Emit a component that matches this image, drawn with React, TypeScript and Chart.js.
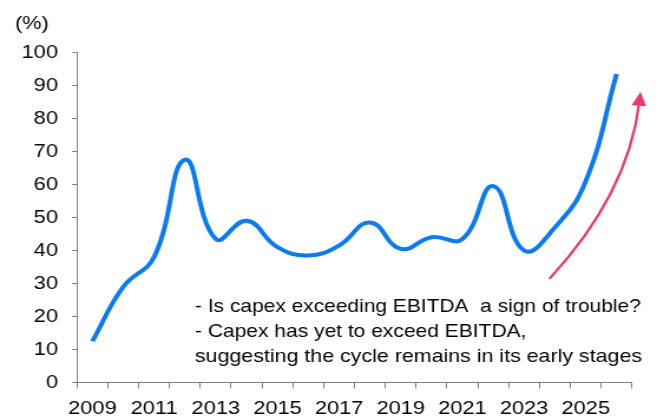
import React, { useEffect, useRef } from "react";
import { Chart, registerables } from "chart.js";

Chart.register(...registerables);

const years: string[] = [
  "2009", "2010", "2011", "2012", "2013", "2014", "2015", "2016", "2017",
  "2018", "2019", "2020", "2021", "2022", "2023", "2024", "2025", "2026",
];
const capexToEbitda: number[] = [
  12.5, 29, 38, 67.5, 43.5, 49, 41, 38.5, 41.5, 48.5, 40.5, 44, 43.5, 59.5, 40, 47, 61, 93.5,
];
const unitLabel = "(%)";
const noteLines: string[] = [
  "- Is capex exceeding EBITDA  a sign of trouble?",
  "- Capex has yet to exceed EBITDA,",
  "suggesting the cycle remains in its early stages",
];
const noteWidths: number[] = [378, 281, 379];
// arrow annotation in data space: [category index, value]
const arrowStart: [number, number] = [14.82, 31.4];
const arrowControl: [number, number] = [17.36, 57];
const arrowTip: [number, number] = [17.78, 88.1];

const FONT = "'Liberation Sans', Arial, sans-serif";
const FONT_SIZE = 18.5;
const STRETCH = 657 / 557;

const overlayPlugin = {
  id: "overlay",
  afterDraw(chart: any) {
    const ctx = chart.ctx as CanvasRenderingContext2D;
    const xs = chart.scales.x;
    const ys = chart.scales.y;
    ctx.save();
    ctx.fillStyle = "#000";
    ctx.font = `${FONT_SIZE}px ${FONT}`;
    ctx.textAlign = "left";
    ctx.textBaseline = "alphabetic";
    ctx.fillText(unitLabel, 12.7, 28.6);
    const noteX = 165.3;
    const baselines = [312.3, 337.3, 362.4];
    noteLines.forEach((t, i) => {
      const w = ctx.measureText(t).width;
      ctx.fillText(t, noteX, baselines[i], Math.min(w, noteWidths[i]));
    });

    // arrow
    const p0 = { x: xs.getPixelForValue(arrowStart[0]), y: ys.getPixelForValue(arrowStart[1]) };
    const c = { x: xs.getPixelForValue(arrowControl[0]), y: ys.getPixelForValue(arrowControl[1]) };
    const tip = { x: xs.getPixelForValue(arrowTip[0]), y: ys.getPixelForValue(arrowTip[1]) };
    const dx = tip.x - c.x;
    const dy = tip.y - c.y;
    const len = Math.hypot(dx, dy);
    const ux = dx / len;
    const uy = dy / len;
    const headLen = 14;
    const headHalf = 6.2;
    const base = { x: tip.x - ux * headLen, y: tip.y - uy * headLen };
    ctx.strokeStyle = "#e93a67";
    ctx.fillStyle = "#e93a67";
    ctx.lineWidth = 2.3;
    ctx.beginPath();
    ctx.moveTo(p0.x, p0.y);
    ctx.quadraticCurveTo(c.x, c.y, base.x + ux * 2, base.y + uy * 2);
    ctx.stroke();
    ctx.beginPath();
    ctx.moveTo(tip.x, tip.y);
    ctx.lineTo(base.x - uy * headHalf, base.y + ux * headHalf);
    ctx.lineTo(base.x + uy * headHalf, base.y - ux * headHalf);
    ctx.closePath();
    ctx.fill();
    ctx.restore();
  },
};

export default function App() {
  const ref = useRef<HTMLCanvasElement | null>(null);
  useEffect(() => {
    document.body.style.margin = "0";
    if (!ref.current) return;
    const chart = new Chart(ref.current, {
      type: "line",
      data: {
        labels: years,
        datasets: [
          {
            data: capexToEbitda,
            borderColor: "#0b7bef",
            borderWidth: 4,
            pointRadius: 0,
            tension: 0.45,
            fill: false,
          },
        ],
      },
      options: {
        responsive: false,
        animation: false,
        devicePixelRatio: 1,
        layout: { padding: { left: 0, right: 21.2, top: 52.5, bottom: 0 } },
        plugins: { legend: { display: false }, tooltip: { enabled: false }, title: { display: false } },
        scales: {
          x: {
            type: "category",
            offset: true,
            afterFit: (s: any) => { s.height = 36.5; },
            grid: {
              offset: true,
              drawOnChartArea: false,
              drawTicks: true,
              tickLength: 6,
              color: "#808080",
            },
            border: { display: true, color: "#808080", width: 1 },
            ticks: {
              autoSkip: false,
              maxRotation: 0,
              minRotation: 0,
              padding: 9,
              color: "#000",
              font: { family: FONT, size: FONT_SIZE },
              callback: (_v: any, i: number) => (i % 2 === 0 ? years[i] : ""),
            },
          },
          y: {
            min: 0,
            max: 100,
            afterFit: (s: any) => { s.width = 65.3; },
            grid: {
              drawOnChartArea: false,
              drawTicks: true,
              tickLength: 4.2,
              color: "#808080",
            },
            border: { display: true, color: "#808080", width: 1 },
            ticks: {
              stepSize: 10,
              padding: 11.9,
              color: "#000",
              font: { family: FONT, size: FONT_SIZE },
            },
          },
        },
      },
      plugins: [overlayPlugin],
    });
    return () => chart.destroy();
  }, []);
  return (
    <div style={{ width: 657, height: 419, position: "relative" }}>
      <canvas
        ref={ref}
        width={557}
        height={419}
        style={{ width: `${557 * STRETCH}px`, height: "419px", display: "block" }}
      />
    </div>
  );
}
